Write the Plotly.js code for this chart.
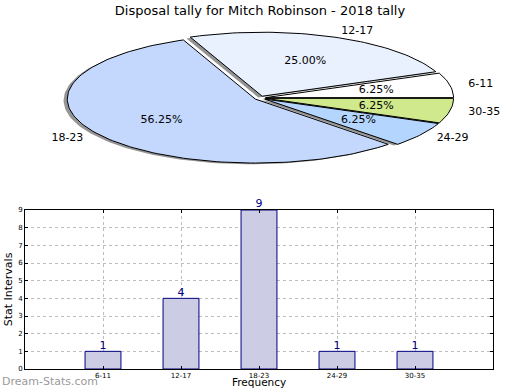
<!DOCTYPE html>
<html>
<head>
<meta charset="utf-8">
<script src="https://cdn.plot.ly/plotly-3.0.1.min.js"></script>
<style>html,body{margin:0;padding:0;background:#fff;}#chart{width:520px;height:390px;}</style>
</head>
<body>
<div id="chart"></div>
<script>
// ---- data ----
const categories = ['6-11', '12-17', '18-23', '24-29', '30-35'];
const counts = [1, 4, 9, 1, 1];
const pieColors = ['#ffffff', '#e9f1ff', '#c4d8fe', '#b3d5fe', '#cfe98c'];
const explode = [0.03, 0.03, 0.03, 0.03, 0.03];
const chartTitle = 'Disposal tally for Mitch Robinson - 2018 tally';
const yTitle = 'Stat Intervals';
const xTitle = 'Frequency';
const watermark = 'Dream-Stats.com';

// ---- pie built as filled wedges on a stretched cartesian subplot ----
const total = counts.reduce((a, b) => a + b, 0);
const traces = [];
const shadowTraces = [];
const wedgeTraces = [];
const labelX = [], labelY = [], labelPos = [];
const pctX = [], pctY = [], pctText = [];
let start = 0;
const FONT = 'DejaVu Sans, sans-serif';
counts.forEach((v, i) => {
  const frac = v / total;
  const t0 = start * 2 * Math.PI;
  const t1 = (start + frac) * 2 * Math.PI;
  const tm = (t0 + t1) / 2;
  const cx = explode[i] * Math.cos(tm);
  const cy = explode[i] * Math.sin(tm);
  const xs = [cx], ys = [cy];
  const n = Math.max(4, Math.ceil(frac * 240));
  for (let k = 0; k <= n; k++) {
    const t = t0 + (t1 - t0) * k / n;
    xs.push(cx + Math.cos(t));
    ys.push(cy + Math.sin(t));
  }
  xs.push(cx); ys.push(cy);
  shadowTraces.push({
    type: 'scatter', mode: 'lines', xaxis: 'x2', yaxis: 'y2',
    x: xs.map(x => x - 0.02), y: ys.map(y => y - 0.02),
    fill: 'toself', fillcolor: 'rgba(60,60,60,0.55)',
    line: {width: 0, color: 'rgba(0,0,0,0)'}, hoverinfo: 'skip', showlegend: false
  });
  wedgeTraces.push({
    type: 'scatter', mode: 'lines', xaxis: 'x2', yaxis: 'y2',
    x: xs, y: ys, fill: 'toself', fillcolor: pieColors[i],
    line: {width: 1, color: '#000000'}, hoverinfo: 'skip', showlegend: false
  });
  const ld = 1.1;
  labelX.push(cx + ld * Math.cos(tm));
  labelY.push(cy + ld * Math.sin(tm));
  labelPos.push(Math.cos(tm) >= 0 ? 'middle right' : 'middle left');
  const pd = 0.6;
  pctX.push(cx + pd * Math.cos(tm));
  pctY.push(cy + pd * Math.sin(tm));
  pctText.push((frac * 100).toFixed(2) + '%');
  start += frac;
});
traces.push(...shadowTraces, ...wedgeTraces);
traces.push({
  type: 'scatter', mode: 'text', xaxis: 'x2', yaxis: 'y2',
  x: labelX, y: labelY, text: categories, textposition: labelPos,
  textfont: {family: FONT, size: 11, color: '#000'}, hoverinfo: 'skip', showlegend: false, cliponaxis: false
});
traces.push({
  type: 'scatter', mode: 'text', xaxis: 'x2', yaxis: 'y2',
  x: pctX, y: pctY, text: pctText, textposition: 'middle center',
  textfont: {family: FONT, size: 11, color: '#000'}, hoverinfo: 'skip', showlegend: false, cliponaxis: false
});

// ---- bar chart ----
traces.push({
  type: 'bar', x: categories, y: counts, width: 0.46,
  marker: {color: '#ccccE4', line: {color: '#000080', width: 1}},
  hoverinfo: 'skip', showlegend: false
});
traces.push({
  type: 'scatter', mode: 'text', x: categories, y: counts,
  text: counts.map(String), textposition: 'top center',
  textfont: {family: FONT, size: 11, color: '#000080'},
  cliponaxis: false, hoverinfo: 'skip', showlegend: false
});

const layout = {
  width: 520, height: 390,
  margin: {l: 0, r: 0, t: 0, b: 0},
  paper_bgcolor: '#ffffff', plot_bgcolor: '#ffffff',
  font: {family: FONT, size: 11, color: '#000'},
  showlegend: false,
  title: {text: chartTitle, x: 0.5, xanchor: 'center', y: 1 - 10 / 390, yanchor: 'middle',
          font: {family: FONT, size: 13, color: '#000'}},
  xaxis2: {domain: [0, 1], range: [-260 / 188, 260 / 188], visible: false, fixedrange: true},
  yaxis2: {domain: [0.5, 1], range: [(98 - 195) / 64, 98 / 64], visible: false, fixedrange: true},
  xaxis: {
    domain: [25 / 520, 493 / 520], range: [-1, 5], type: 'category',
    showline: true, linecolor: '#000', linewidth: 1, mirror: 'ticks',
    ticks: 'inside', ticklen: 3, tickcolor: '#000',
    showgrid: true, gridcolor: '#bdbdbd', griddash: 'dot', gridwidth: 1,
    tickfont: {family: FONT, size: 7, color: '#000'},
    automargin: false, zeroline: false
  },
  yaxis: {
    domain: [1 - 369 / 390, 1 - 210 / 390], range: [0, 9], dtick: 1,
    showline: true, linecolor: '#000', linewidth: 1, mirror: 'ticks',
    ticks: 'inside', ticklen: 3, tickcolor: '#000',
    showgrid: true, gridcolor: '#bdbdbd', griddash: 'dot', gridwidth: 1,
    tickfont: {family: FONT, size: 7, color: '#000'},
    title: {text: yTitle, standoff: 3, font: {family: FONT, size: 11, color: '#000'}},
    automargin: false, zeroline: false
  },
  annotations: [{
    text: watermark, xref: 'paper', yref: 'paper', x: 0, y: 1 - 381 / 390,
    xanchor: 'left', yanchor: 'middle', showarrow: false,
    font: {family: FONT, size: 11, color: '#9a9a9a'}
  }, {
    text: xTitle, xref: 'paper', yref: 'paper', x: 259 / 520, y: 0,
    xanchor: 'center', yanchor: 'bottom', showarrow: false,
    font: {family: FONT, size: 10.5, color: '#000'}
  }]
};

Plotly.newPlot('chart', traces, layout, {staticPlot: true, displayModeBar: false});
</script>
</body>
</html>
